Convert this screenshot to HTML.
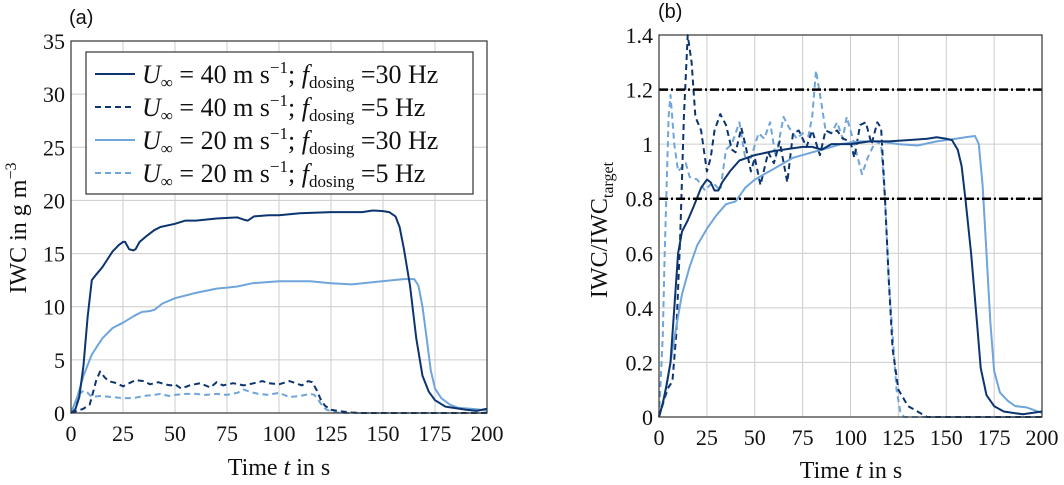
<!DOCTYPE html>
<html><head><meta charset="utf-8"><style>
html,body{margin:0;padding:0;background:#fff;width:1064px;height:485px;overflow:hidden}
svg{display:block}
.tk{font-family:"Liberation Serif",serif;font-size:22px;fill:#111}
.ttl{font-family:"Liberation Serif",serif;font-size:24px;fill:#111}
.lg{font-family:"Liberation Serif",serif;font-size:26px;fill:#111}
.pl{font-family:"Liberation Sans",sans-serif;font-size:20px;fill:#111}
</style></head><body>
<svg id="chart" width="1064" height="485" viewBox="0 0 1064 485" xmlns="http://www.w3.org/2000/svg">
<text class="pl" x="69" y="24">(a)</text>
<text class="pl" x="658" y="18">(b)</text>
<g id="ga"></g>
<g id="gb"></g>
</svg>
<script>
const xTicks=[0,25,50,75,100,125,150,175,200];
const yTicksA=[0,5,10,15,20,25,30,35];
const yTicksB=[0,0.2,0.4,0.6,0.8,1,1.2,1.4];
const yLabelsB=["0","0.2","0.4","0.6","0.8","1","1.2","1.4"];
const refLinesB=[0.8,1.2];
const a40_30=[[0,0],[2,0.3],[4,1.5],[6,4.5],[8,9],[10,12.5],[12,13],[15,13.7],[17,14.3],[20,15.2],[23,15.8],[25,16.1],[26,16.1],[28,15.4],[30,15.3],[31,15.4],[33,16.1],[36,16.6],[40,17.2],[43,17.5],[50,17.8],[55,18.1],[60,18.1],[70,18.3],[80,18.4],[83,18.2],[85,18.1],[88,18.5],[95,18.6],[100,18.6],[110,18.8],[125,18.9],[140,18.9],[145,19.05],[150,19],[153,18.9],[156,18.5],[158,17.5],[160,15.5],[163,12],[166,7],[169,3.5],[172,2],[175,1.2],[180,0.6],[190,0.3],[195,0.2],[200,0.4]];
const a20_30=[[0,0],[3,1.5],[6,3.5],[10,5.5],[15,7],[20,8],[25,8.5],[30,9.1],[34,9.5],[38,9.6],[40,9.7],[44,10.3],[50,10.8],[60,11.3],[70,11.7],[75,11.8],[80,11.9],[87,12.2],[100,12.4],[115,12.4],[125,12.2],[135,12.1],[145,12.3],[155,12.5],[160,12.6],[165,12.6],[167,12],[169,10],[171,7],[173,4],[175,2.3],[178,1.4],[182,0.8],[186,0.5],[195,0.35],[200,0.2]];
const a40_5=[[0,0],[3,0.2],[6,0.4],[9,0.8],[10,1.5],[12,3],[14,3.9],[16,3.4],[18,3],[22,2.8],[25,2.5],[28,2.8],[31,3.1],[35,3],[38,2.7],[42,2.9],[45,2.7],[48,2.6],[50,2.7],[53,2.3],[57,2.6],[62,2.8],[67,2.4],[70,2.9],[73,2.6],[78,2.8],[83,2.6],[88,2.8],[92,3],[95,2.8],[100,2.7],[105,3],[108,2.8],[111,2.6],[114,3],[116,2.9],[118,2.2],[120,1.3],[122,0.7],[125,0.3],[130,0.15],[135,0.05],[140,0],[200,0]];
const a20_5=[[0,0],[2,0.8],[4,1.8],[6,2.1],[8,1.9],[10,1.5],[14,1.6],[20,1.5],[25,1.4],[30,1.4],[35,1.6],[40,1.7],[43,1.8],[47,1.6],[50,1.7],[55,1.8],[60,1.8],[65,1.7],[70,1.8],[75,1.7],[80,1.9],[83,2.2],[86,2],[90,1.8],[95,1.7],[100,1.9],[105,1.5],[110,1.6],[115,1.8],[117,1.7],[119,1.2],[121,0.6],[123,0.3],[126,0.1],[130,0],[200,0]];
const b40_30=[[0,0],[2,0.05],[4,0.12],[6,0.2],[8,0.4],[10,0.6],[12,0.68],[15,0.72],[18,0.77],[22,0.84],[25,0.87],[27,0.86],[29,0.83],[31,0.83],[33,0.86],[37,0.9],[42,0.94],[50,0.96],[60,0.975],[75,0.99],[80,0.99],[85,0.98],[90,1.0],[100,1.0],[110,1.01],[120,1.01],[130,1.015],[140,1.02],[145,1.025],[150,1.02],[153,1.015],[156,0.98],[158,0.92],[160,0.8],[163,0.6],[166,0.35],[168,0.18],[171,0.08],[175,0.04],[180,0.02],[190,0.01],[195,0.015],[200,0.02]];
const b20_30=[[0,0],[3,0.08],[6,0.2],[9,0.33],[12,0.45],[16,0.55],[20,0.63],[25,0.69],[30,0.74],[35,0.78],[40,0.79],[45,0.84],[50,0.87],[60,0.91],[70,0.95],[80,0.97],[88,0.985],[95,1.0],[105,1.01],[115,1.01],[125,1.0],[135,0.995],[145,1.01],[155,1.02],[160,1.025],[165,1.03],[167,1.0],[169,0.85],[171,0.6],[173,0.35],[175,0.17],[178,0.09],[182,0.06],[186,0.04],[192,0.035],[200,0.015]];
const b40_5=[[0,0],[3,0.07],[5,0.11],[7,0.13],[9,0.3],[11,0.65],[13,1.1],[15,1.4],[17,1.3],[19,1.1],[22,1.05],[25,0.9],[27,0.95],[29,1.05],[32,1.11],[35,1.07],[38,0.98],[40,0.97],[43,1.06],[45,1.0],[48,0.9],[50,0.95],[53,0.85],[57,0.97],[60,0.93],[63,1.01],[67,0.86],[70,1.04],[73,1.05],[77,0.99],[80,1.05],[84,0.96],[87,1.05],[90,1.04],[93,1.05],[96,1.02],[100,1.01],[102,0.95],[105,1.07],[108,1.08],[111,1.0],[114,1.08],[116,1.06],[118,0.8],[120,0.5],[122,0.25],[125,0.1],[130,0.04],[135,0.02],[140,0],[200,0]];
const b20_5=[[0,0],[2,0.3],[3,0.6],[5,1.1],[6,1.18],[8,1.0],[10,0.9],[14,0.93],[16,0.88],[20,0.87],[24,0.83],[28,0.86],[32,0.83],[35,0.98],[38,1.0],[42,1.08],[45,0.95],[48,0.95],[52,1.04],[55,1.02],[58,1.08],[61,0.95],[65,1.1],[68,1.06],[72,1.02],[75,1.04],[78,1.03],[80,1.1],[82,1.27],[85,1.14],[87,1.05],[90,1.04],[93,1.08],[96,1.02],[98,1.1],[102,1.0],[106,0.89],[109,0.95],[113,1.01],[116,1.0],[118,0.8],[120,0.5],[122,0.3],[124,0.1],[126,0.02],[128,0],[200,0]];

const NS="http://www.w3.org/2000/svg";
const DARK="#0c3570", LIGHT="#6fa5da";
function mk(tag,attrs,parent){const e=document.createElementNS(NS,tag);for(const k in attrs)e.setAttribute(k,attrs[k]);parent.appendChild(e);return e;}

function panel(g,L,R,T,B,ymax,yTicks,yLabels,series,prefix){
  const sx=t=>L+(t/200)*(R-L);
  const sy=v=>B-(v/ymax)*(B-T);
  xTicks.forEach(t=>{const l=mk('line',{x1:sx(t),x2:sx(t),y1:T,y2:B,stroke:'#cccccc','stroke-width':1},g);
    
    
    const tx=mk('text',{x:sx(t),y:B+28,'text-anchor':'middle',class:'tk'},g);tx.textContent=t;
    
    });
  yTicks.forEach((v,i)=>{const l=mk('line',{x1:L,x2:R,y1:sy(v),y2:sy(v),stroke:'#cccccc','stroke-width':1},g);
    
    
    const tx=mk('text',{x:L-6,y:sy(v)+8,'text-anchor':'end',class:'tk'},g);tx.textContent=yLabels[i];
    
    });
  series.forEach(s=>{
    const d=s.data.map((p,i)=>(i?'L':'M')+sx(p[0]).toFixed(1)+' '+sy(Math.min(p[1],ymax)).toFixed(1)).join(' ');
    const p=mk('path',{d:d,fill:'none',stroke:s.c,'stroke-width':2,'stroke-dasharray':s.dash?'6 4':'none','stroke-linejoin':'round'},g);
    
    
  });
  return {sx,sy};
}
const ga=document.getElementById('ga'), gb=document.getElementById('gb');
const A=panel(ga,71,487,41,413,35,yTicksA,yTicksA.map(String),[
 {data:a20_5,c:LIGHT,dash:true,n:'series-20ms-5hz'},{data:a40_5,c:DARK,dash:true,n:'series-40ms-5hz'},
 {data:a20_30,c:LIGHT,dash:false,n:'series-20ms-30hz'},{data:a40_30,c:DARK,dash:false,n:'series-40ms-30hz'}],'a-');
const Bp=panel(gb,659,1042,35,417,1.4,yTicksB,yLabelsB,[
 {data:b20_5,c:LIGHT,dash:true,n:'series-20ms-5hz'},{data:b40_5,c:DARK,dash:true,n:'series-40ms-5hz'},
 {data:b20_30,c:LIGHT,dash:false,n:'series-20ms-30hz'},{data:b40_30,c:DARK,dash:false,n:'series-40ms-30hz'}],'b-');
refLinesB.forEach(v=>{const l=mk('line',{x1:659,x2:1042,y1:Bp.sy(v),y2:Bp.sy(v),stroke:'#000','stroke-width':2.5,'stroke-dasharray':'9 3 2 3'},gb);
 
 });
[[ga,71,487,41,413],[gb,659,1042,35,417]].forEach(a=>{const r=mk('rect',{x:a[1],y:a[3],width:a[2]-a[1],height:a[4]-a[3],fill:'none',stroke:'#333','stroke-width':1.2},a[0]);
 
 });
</script>
<svg style="position:absolute;left:0;top:0" width="1064" height="485" xmlns="http://www.w3.org/2000/svg">
<text class="ttl" x="279" y="475" text-anchor="middle">Time <tspan font-style="italic">t</tspan> in s</text>
<text class="ttl" x="851" y="478" text-anchor="middle">Time <tspan font-style="italic">t</tspan> in s</text>
<text class="ttl" transform="translate(26,228) rotate(-90)" text-anchor="middle">IWC in g m<tspan font-size="16" dy="-10">−3</tspan></text>
<text class="ttl" transform="translate(607,230) rotate(-90)" text-anchor="middle">IWC/IWC<tspan font-size="16" dy="6">target</tspan></text>
<g>
<rect x="86" y="52" width="387" height="142" fill="#fff" stroke="#333" stroke-width="1.2"/>
<g><line x1="95" x2="135" y1="74" y2="74" stroke="#0c3570" stroke-width="2"/><text class="lg" x="142" y="83"><tspan font-style="italic">U</tspan><tspan font-size="17" dy="5">∞</tspan><tspan dy="-5"> = 40 m s</tspan><tspan font-size="17" dy="-10">−1</tspan><tspan dy="10">; </tspan><tspan font-style="italic">f</tspan><tspan font-size="17" dy="5">dosing</tspan><tspan dy="-5"> =30 Hz</tspan></text></g>
<g><line x1="95" x2="135" y1="107" y2="107" stroke="#0c3570" stroke-width="2" stroke-dasharray="6 4"/><text class="lg" x="142" y="116"><tspan font-style="italic">U</tspan><tspan font-size="17" dy="5">∞</tspan><tspan dy="-5"> = 40 m s</tspan><tspan font-size="17" dy="-10">−1</tspan><tspan dy="10">; </tspan><tspan font-style="italic">f</tspan><tspan font-size="17" dy="5">dosing</tspan><tspan dy="-5"> =5 Hz</tspan></text></g>
<g><line x1="95" x2="135" y1="140" y2="140" stroke="#6fa5da" stroke-width="2"/><text class="lg" x="142" y="149"><tspan font-style="italic">U</tspan><tspan font-size="17" dy="5">∞</tspan><tspan dy="-5"> = 20 m s</tspan><tspan font-size="17" dy="-10">−1</tspan><tspan dy="10">; </tspan><tspan font-style="italic">f</tspan><tspan font-size="17" dy="5">dosing</tspan><tspan dy="-5"> =30 Hz</tspan></text></g>
<g><line x1="95" x2="135" y1="173" y2="173" stroke="#6fa5da" stroke-width="2" stroke-dasharray="6 4"/><text class="lg" x="142" y="182"><tspan font-style="italic">U</tspan><tspan font-size="17" dy="5">∞</tspan><tspan dy="-5"> = 20 m s</tspan><tspan font-size="17" dy="-10">−1</tspan><tspan dy="10">; </tspan><tspan font-style="italic">f</tspan><tspan font-size="17" dy="5">dosing</tspan><tspan dy="-5"> =5 Hz</tspan></text></g>
</g>
</svg>
</body></html>
